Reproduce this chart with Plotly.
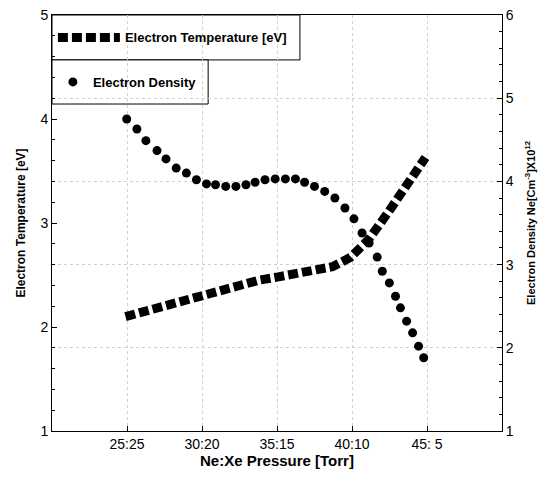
import plotly.graph_objects as go

# Ne partial pressure (Torr); Xe = 50 - Ne
temp_pressure = [24.9, 26.6, 27.7, 28.96, 30.17, 31.45, 32.66, 33.8, 35.0, 36.2,
                 37.5, 38.7, 39.9, 41.1, 42.4, 43.4, 44.5, 44.9]
temp_ev = [2.10, 2.17, 2.21, 2.26, 2.31, 2.37, 2.42, 2.45, 2.48, 2.51,
           2.53, 2.58, 2.67, 2.84, 3.10, 3.32, 3.56, 3.63]

dens_pressure = [24.98, 25.66, 26.26, 27.0, 27.6, 28.28, 28.96, 29.63, 30.3, 30.9,
                 31.58, 32.26, 32.93, 33.54, 34.2, 34.88, 35.56, 36.23, 36.84, 37.5,
                 38.18, 38.86, 39.53, 40.13, 40.67, 41.14, 41.68, 42.02, 42.49, 42.9,
                 43.23, 43.64, 44.04, 44.44, 44.78]
dens_e12 = [4.75, 4.63, 4.49, 4.37, 4.27, 4.16, 4.10, 4.02, 3.97, 3.96,
            3.94, 3.94, 3.96, 3.99, 4.02, 4.03, 4.03, 4.03, 3.99, 3.94,
            3.88, 3.80, 3.68, 3.55, 3.38, 3.26, 3.09, 2.92, 2.78, 2.62,
            2.48, 2.32, 2.18, 2.02, 1.88]

tick_vals = [25, 30, 35, 40, 45]
tick_text = ["25:25", "30:20", "35:15", "40:10", "45: 5"]

sans = "Liberation Sans, Arial"

fig = go.Figure()
fig.add_trace(go.Scatter(
    x=temp_pressure, y=temp_ev, mode="lines",
    name="Electron Temperature [eV]",
    line=dict(color="black", width=9, dash="10px,4px"), legend="legend", showlegend=True,
))
fig.add_trace(go.Scatter(
    x=dens_pressure, y=dens_e12, mode="markers",
    name="Electron Density",
    marker=dict(color="black", size=9, symbol="circle"), yaxis="y2", legend="legend2",
    showlegend=True,
))

axis_font = dict(family=sans, size=14, color="black")
legend_font = dict(family=sans, size=13, color="black", weight="bold")

# the two separate legend boxes, as in the original
box_style = dict(type="rect", xref="paper", yref="paper", layer="between",
                 line=dict(color="black", width=1), fillcolor="white")
fig.add_shape(x0=0, x1=0.551, y0=0.892, y1=1, **box_style)
fig.add_shape(x0=0, x1=0.347, y0=0.786, y1=0.892, **box_style)

# page body has an 8px margin, so the figure is a bit smaller than the window
fig.update_layout(
    width=540, height=478,
    margin=dict(l=44, r=46, t=7, b=55),
    plot_bgcolor="white", paper_bgcolor="white",
    showlegend=True,
    xaxis=dict(
        range=[20, 50], tickvals=tick_vals, ticktext=tick_text,
        ticks="inside", ticklen=5, tickcolor="black",
        showline=True, linecolor="black", linewidth=1, mirror=True,
        showgrid=True, gridcolor="#d0d0d0", griddash="dot", gridwidth=1,
        zeroline=False, tickfont=axis_font, automargin=False,
        title=dict(text="<b>Ne:Xe Pressure [Torr]</b>", font=dict(family=sans, size=15, color="black"), standoff=2),
    ),
    yaxis=dict(
        range=[1, 5], dtick=1, ticks="inside", ticklen=5, tickcolor="black",
        showline=True, linecolor="black", linewidth=1,
        showgrid=False, zeroline=False, tickfont=axis_font, automargin=False,
        ticklabeloverflow="allow",
        minor=dict(dtick=0.2, ticks="inside", ticklen=3, tickcolor="black"),
        title=dict(text="<b>Electron Temperature [eV]</b>", font=dict(family=sans, size=12, color="black"), standoff=12),
    ),
    yaxis2=dict(
        range=[1, 6], dtick=1, overlaying="y", side="right",
        ticks="inside", ticklen=5, tickcolor="black",
        showline=True, linecolor="black", linewidth=1,
        showgrid=True, gridcolor="#d0d0d0", griddash="dot", gridwidth=1,
        zeroline=False, tickfont=axis_font, automargin=False,
        ticklabeloverflow="allow",
        minor=dict(dtick=0.2, ticks="inside", ticklen=3, tickcolor="black"),
        title=dict(text="<b>Electron Density Ne[Cm<sup>-3</sup>]X10<sup>12</sup></b>",
                   font=dict(family=sans, size=11, color="black"), standoff=14),
    ),
    legend=dict(
        x=0.002, y=0.946, xanchor="left", yanchor="middle", bgcolor="rgba(0,0,0,0)",
        borderwidth=0, itemwidth=62, font=legend_font,
    ),
    legend2=dict(
        x=0.002, y=0.839, xanchor="left", yanchor="middle", bgcolor="rgba(0,0,0,0)",
        borderwidth=0, itemwidth=30, font=legend_font,
    ),
)

fig.write_html("out.html")
